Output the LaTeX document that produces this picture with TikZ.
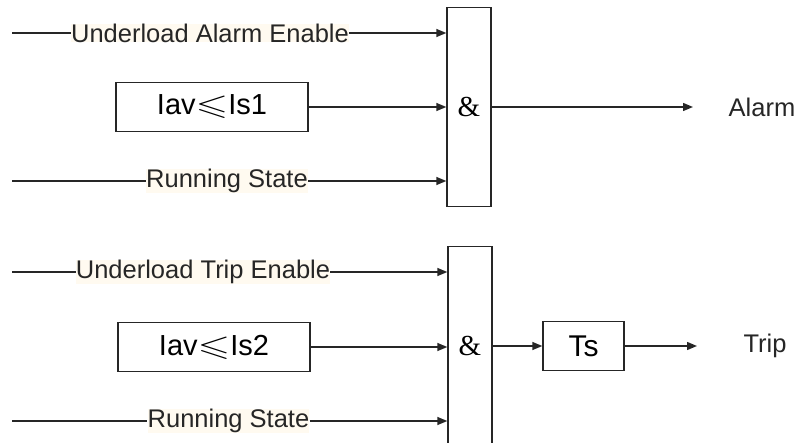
\documentclass[tikz,border=0pt]{standalone}
\usepackage{fontspec}
\usepackage{amssymb}
\setmainfont{Liberation Sans}
\newfontfamily\ampfont{Liberation Serif}
\usetikzlibrary{arrows.meta}
\definecolor{lblbg}{RGB}{255,250,240}
\newcommand{\wideleq}{\scalebox{1.45}[1]{$\leqslant$}}
\tikzset{
  wire/.style={line width=1.4pt, draw=black!85},
  arr/.style={wire, -{Triangle[length=10pt,width=8pt]}},
  lbl/.style={fill=lblbg, inner sep=0pt, text=black!85, font=\fontsize{25.5}{28}\selectfont},
  outlbl/.style={inner sep=0pt, text=black!85, font=\fontsize{25.5}{28}\selectfont},
  andgate/.style={draw=black!85, line width=1.4pt, minimum width=44pt, minimum height=199pt, inner sep=0pt, font=\ampfont\fontsize{29}{30}\selectfont},
  cmpbox/.style={draw=black!85, line width=1.4pt, minimum width=192pt, minimum height=49pt, inner sep=0pt, font=\fontsize{29}{30}\selectfont},
  tbox/.style={draw=black!85, line width=1.4pt, minimum width=81pt, minimum height=49pt, inner sep=0pt, font=\fontsize{30}{30}\selectfont}
}
\begin{document}
\begin{tikzpicture}[x=1pt, y=-1pt]
  \useasboundingbox (0,0) rectangle (799,443);
  % alarm branch
  \node[andgate] (g1) at (469,107) {\&};
  \node[lbl] (uae) at (210,33) {Underload Alarm Enable};
  \node[cmpbox] (c1) at (212,107) {Iav\wideleq Is1};
  \node[lbl] (rs1) at (227,181) {Running State};
  \coordinate (uae0) at (12,33);
  \coordinate (rs10) at (12,181);
  \draw[wire] (uae0) -- (uae.west);
  \draw[arr] (uae.east) -- (g1.west |- uae);
  \draw[arr] (c1.east) -- (g1.west |- c1);
  \draw[wire] (rs10) -- (rs1.west);
  \draw[arr] (rs1.east) -- (g1.west |- rs1);
  \coordinate (al0) at (693,107);
  \draw[arr] (g1.east |- al0) -- (al0);
  \node[outlbl] (al) at (762,107) {Alarm};
  % trip branch
  \node[andgate] (g2) at (470,346) {\&};
  \node[lbl] (ute) at (203,272) {Underload Trip Enable};
  \node[cmpbox] (c2) at (214,347) {Iav\wideleq Is2};
  \node[lbl] (rs2) at (228.5,421) {Running State};
  \coordinate (ute0) at (12,272);
  \coordinate (rs20) at (12,421);
  \draw[wire] (ute0) -- (ute.west);
  \draw[arr] (ute.east) -- (g2.west |- ute);
  \draw[arr] (c2.east) -- (g2.west |- c2);
  \draw[wire] (rs20) -- (rs2.west);
  \draw[arr] (rs2.east) -- (g2.west |- rs2);
  \node[tbox] (ts) at (583.5,346) {Ts};
  \draw[arr] (g2.east |- ts) -- (ts.west);
  \coordinate (tr0) at (697,346);
  \draw[arr] (ts.east) -- (tr0);
  \node[outlbl] (tr) at (765,346) {Trip};
\end{tikzpicture}
\end{document}
